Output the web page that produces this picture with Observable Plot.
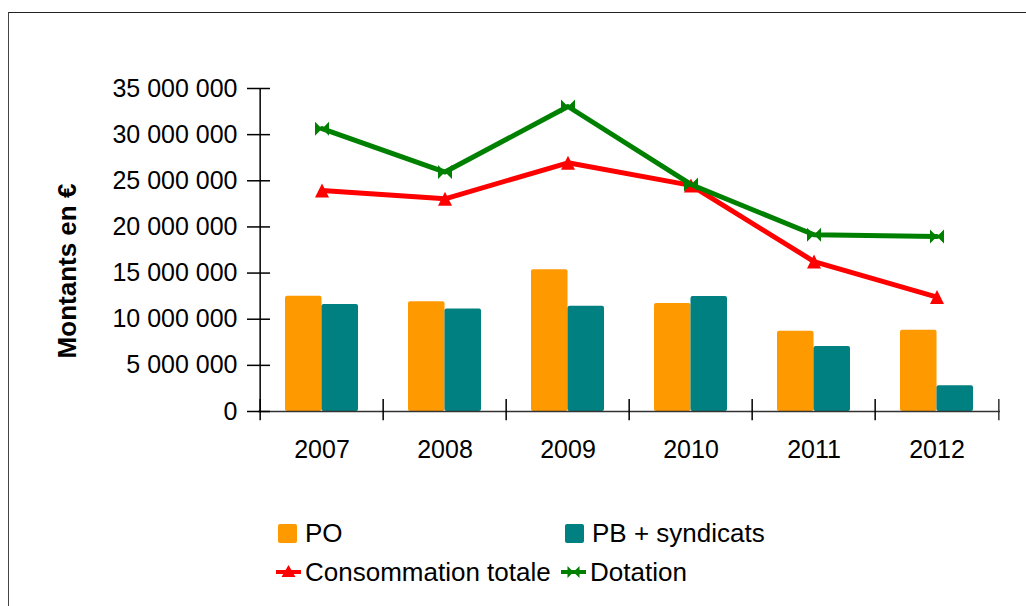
<!DOCTYPE html>
<html><head><meta charset="utf-8">
<script src="https://cdn.jsdelivr.net/npm/d3@7"></script>
<script src="https://cdn.jsdelivr.net/npm/@observablehq/plot@0.6"></script>
<style>
body{margin:0;background:#fff;font-family:"Liberation Sans",Arial,sans-serif;}
#wrap{position:relative;width:1026px;height:606px;overflow:hidden;background:#fff;}
#frame{position:absolute;left:8px;top:12px;width:1100px;height:700px;border-left:1px solid #444;border-top:1px solid #222;}
#chart{position:absolute;left:0;top:0;}
.leg{position:absolute;font-size:26px;color:#000;display:flex;align-items:center;white-space:nowrap;line-height:1;}
.sw{display:inline-block;width:19px;height:19px;border-radius:2px;margin-right:8px;}
.leg svg{margin-right:4px;}
</style>
</head><body>
<div id="wrap">
  <div id="frame"></div>
  <div id="chart"></div>
  <div id="legend"></div>
</div>
<script>
const years = ["2007", "2008", "2009", "2010", "2011", "2012"];
const po = [12.5e6, 11.9e6, 15.35e6, 11.7e6, 8.7e6, 8.8e6];
const pb = [11.6e6, 11.1e6, 11.4e6, 12.45e6, 7.05e6, 2.8e6];
const consommation = [23.95e6, 23.05e6, 26.95e6, 24.5e6, 16.25e6, 12.4e6];
const dotation = [30.65e6, 25.95e6, 33.05e6, 24.6e6, 19.15e6, 18.95e6];
const yTicks = [0, 5e6, 10e6, 15e6, 20e6, 25e6, 30e6, 35e6];
const seriesNames = ["PO", "PB + syndicats", "Consommation totale", "Dotation"];
const colors = ["#FF9900", "#008080", "#FF0000", "#008000"];
const yTitle = "Montants en €";

const table = years.map((year, i) => ({year, po: po[i], pb: pb[i], conso: consommation[i], dot: dotation[i]}));

const W = 1026, H = 606, mL = 258, mR = 26, mT = 88, mB = 195;
const step = (W - mL - mR) / years.length;
const pad = 0.41;
const half = (1 - pad) * step / 2;

const triangle = {
  draw(ctx, size) {
    const r = Math.sqrt(size / Math.PI);
    ctx.moveTo(0, -r);
    ctx.lineTo(r, r);
    ctx.lineTo(-r, r);
    ctx.closePath();
  }
};
const bowtie = {
  draw(ctx, size) {
    const r = Math.sqrt(size / Math.PI);
    ctx.moveTo(-r, -r); ctx.lineTo(0, 0); ctx.lineTo(-r, r); ctx.closePath();
    ctx.moveTo(r, -r); ctx.lineTo(0, 0); ctx.lineTo(r, r); ctx.closePath();
  }
};
const fmt = v => d3.format(",")(v).replace(/,/g, " ");

const chart = Plot.plot({
  width: W, height: H,
  marginLeft: mL, marginRight: mR, marginTop: mT, marginBottom: mB,
  style: {fontFamily: "'Liberation Sans', Arial, sans-serif", fontSize: "25px", background: "transparent", color: "#000"},
  x: {type: "band", domain: years, paddingInner: pad, paddingOuter: pad / 2, label: null},
  y: {domain: [0, 35e6], label: null},
  marks: [
    Plot.barY(table, {x: "year", y: "po", fill: colors[0], insetRight: half, rx: 2}),
    Plot.barY(table, {x: "year", y: "pb", fill: colors[1], insetLeft: half, rx: 2}),
    Plot.ruleY([0], {stroke: "#333", strokeWidth: 1.5}),
    Plot.ruleX([years[0]], {x: d => d, dx: -step / 2, y1: 0, y2: 35e6, stroke: "#000", strokeWidth: 1.5}),
    Plot.ruleX(years, {x: d => d, dx: -step / 2, y1: -1e6, y2: 1.3e6, stroke: "#000", strokeWidth: 1.5}),
    Plot.ruleX([years[years.length - 1]], {x: d => d, dx: step / 2, y1: -1e6, y2: 1.3e6, stroke: "#333", strokeWidth: 1.5}),
    Plot.axisY({ticks: yTicks, tickFormat: fmt, tickSize: 23, dx: 12, tickPadding: 10, strokeWidth: 1.5, label: null}),
    Plot.axisX({tickSize: 0, tickPadding: 29, label: null}),
    Plot.line(table, {x: "year", y: "conso", stroke: colors[2], strokeWidth: 5}),
    Plot.dot(table, {x: "year", y: "conso", symbol: triangle, r: 7, fill: colors[2], stroke: "none"}),
    Plot.line(table, {x: "year", y: "dot", stroke: colors[3], strokeWidth: 5}),
    Plot.dot(table, {x: "year", y: "dot", symbol: bowtie, r: 7, fill: colors[3], stroke: "none"}),
    Plot.text([yTitle], {frameAnchor: "left", dx: -191, dy: 21, rotate: -90, fontWeight: "bold", fontSize: 26, textAnchor: "middle", fill: "#000"})
  ]
});
document.getElementById("chart").appendChild(chart);

// Legend
const legend = document.getElementById("legend");
function lineSvg(color, marker) {
  const m = marker === "tri"
    ? `<path d="M12.5,-7 L19.5,5 L5.5,5 Z" transform="translate(0,12)" fill="${color}"/>`
    : `<path d="M6.5,6 L12.5,12 L6.5,18 Z M18.5,6 L12.5,12 L18.5,18 Z" fill="${color}"/>`;
  return `<svg width="25" height="24" viewBox="0 0 25 24"><line x1="0" y1="12" x2="25" y2="12" stroke="${color}" stroke-width="4"/>${m}</svg>`;
}
const items = [
  {left: 278, top: 520, html: `<span class="sw" style="background:${colors[0]}"></span>${seriesNames[0]}`},
  {left: 565, top: 520, html: `<span class="sw" style="background:${colors[1]}"></span>${seriesNames[1]}`},
  {left: 276, top: 559, html: lineSvg(colors[2], "tri") + seriesNames[2]},
  {left: 561, top: 559, html: lineSvg(colors[3], "bow") + seriesNames[3]}
];
for (const it of items) {
  const d = document.createElement("div");
  d.className = "leg";
  d.style.left = it.left + "px";
  d.style.top = it.top + "px";
  d.innerHTML = it.html;
  legend.appendChild(d);
}
</script>
</body></html>
